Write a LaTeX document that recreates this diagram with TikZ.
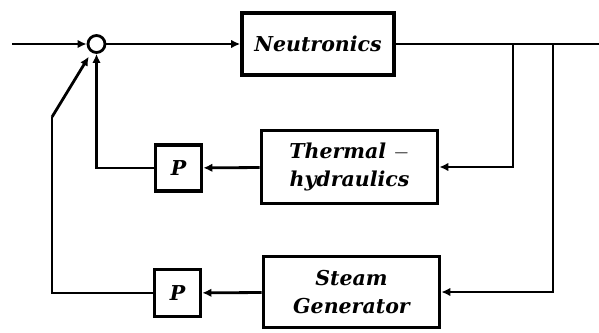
\documentclass[tikz,border=0pt]{standalone}
\usepackage{fontspec}
\usetikzlibrary{arrows.meta}
\newfontfamily\fontblocchi{DejaVu Serif}
\begin{document}
\begin{tikzpicture}[>={Latex[length=9pt, width=8.5pt]}, x=1pt, y=-1pt,
	linea/.style={line width=2.8pt},
	blocco/.style={draw, line width=3.6pt, align=center, inner sep=0pt,
		font=\fontblocchi\fontsize{20.5}{28}\selectfont\bfseries\itshape},
	nodosomma/.style={draw, circle, line width=2.8pt, minimum size=17pt, inner sep=0pt}]
	% Area del disegno (dimensioni del riferimento)
	\useasboundingbox (0,0) rectangle (599,332);
	
	% --- Blocchi ---
	\node[nodosomma] (somma) at (96.5,44) {};
	\node[blocco, minimum width=152pt, minimum height=62pt] (neut) at (318,44) {Neutronics};
	\node[blocco, minimum width=176pt, minimum height=73pt] (term) at (349.5,167) {Thermal $-$\\hydraulics};
	\node[blocco, minimum width=176pt, minimum height=71pt] (vap) at (351.5,292) {Steam\\Generator};
	\node[blocco, minimum width=46pt, minimum height=46pt] (pterm) at (178.5,168) {P};
	\node[blocco, minimum width=46pt, minimum height=47pt] (pvap) at (177.5,293) {P};
	
	% --- Punti di diramazione ---
	\coordinate (ingresso) at (12,44);
	\coordinate (uscita) at (599,44);
	\coordinate (dir1) at (513,44);
	\coordinate (dir2) at (553,44);
	\coordinate (gomito) at (52,117);
	
	% --- Collegamenti ---
	\draw[linea, ->] (ingresso) -- (somma);
	\draw[linea, ->] (somma) -- (neut);
	\draw[linea] (neut) -- (uscita);
	\draw[linea, ->] (dir1) |- (term.east);
	\draw[linea, ->] (dir2) |- (vap.east);
	\draw[linea, ->] (term) -- (pterm);
	\draw[linea, ->] (vap) -- (pvap);
	\draw[linea, ->] (pterm.west) -| (somma.south);
	\draw[linea] (pvap.west) -| (gomito);
	\draw[linea, ->, shorten >=5pt] (gomito) -- (somma);
\end{tikzpicture}
\end{document}
